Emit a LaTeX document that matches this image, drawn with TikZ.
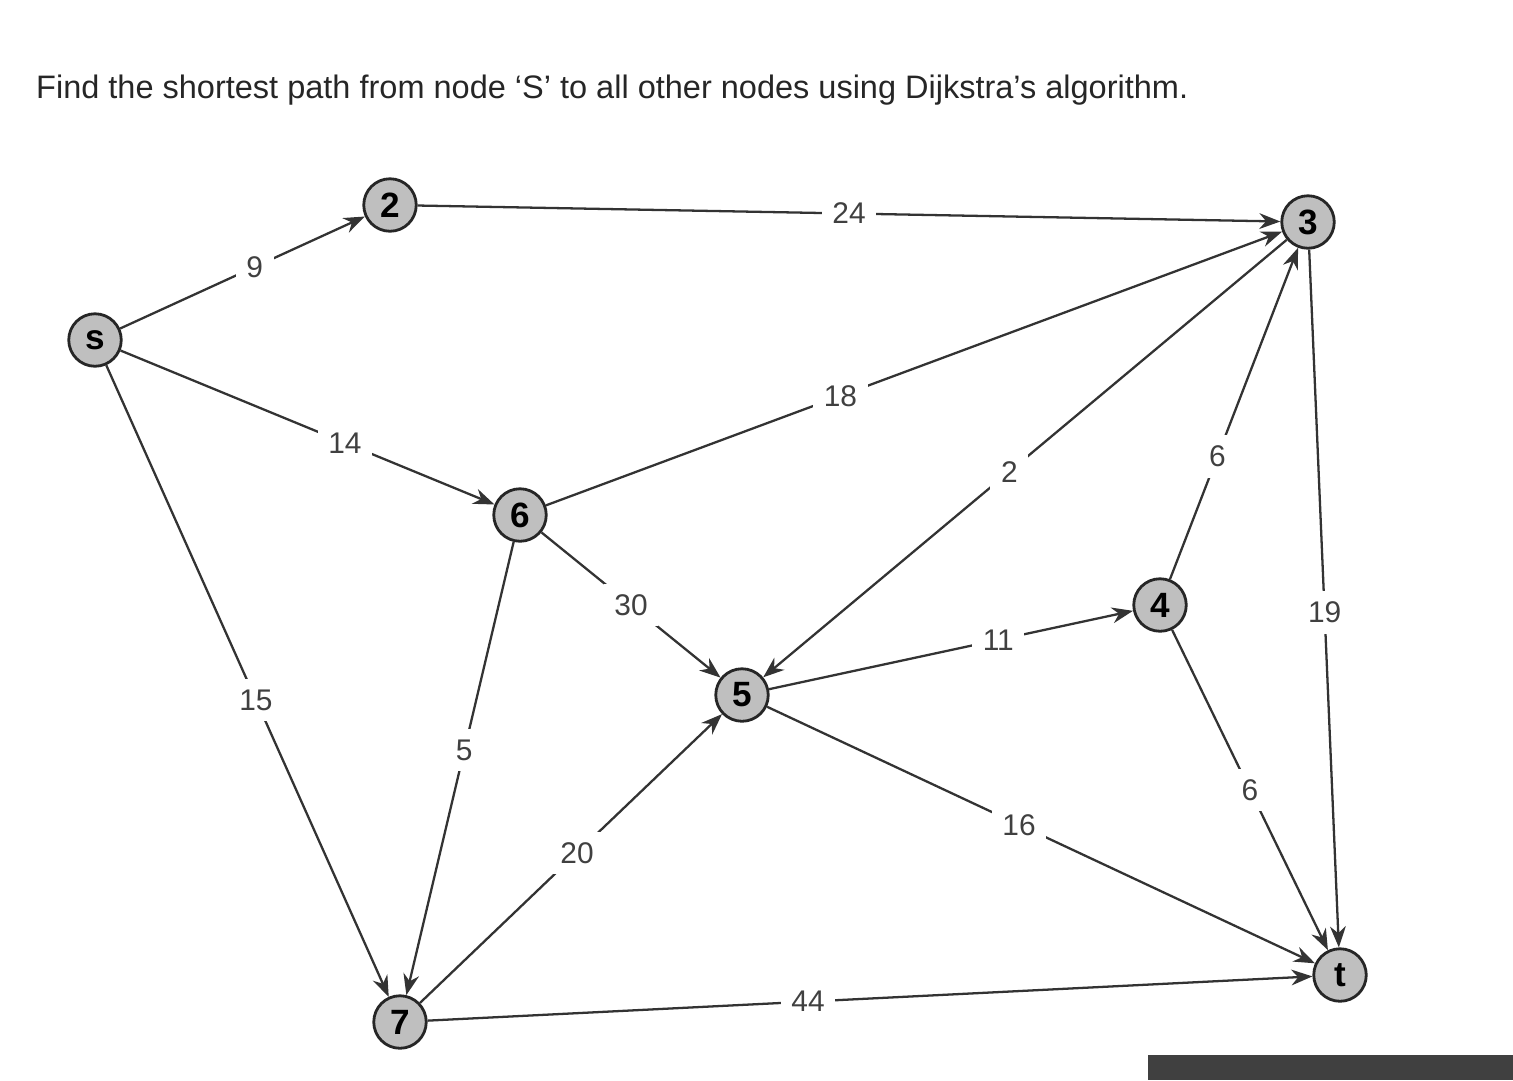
\documentclass[tikz,border=0pt]{standalone}
\usepackage{fontspec}
\setmainfont{Liberation Sans}
\usetikzlibrary{arrows.meta}
\begin{document}
\begin{tikzpicture}[x=0.02cm,y=-0.02cm,
  vert/.style={circle,draw=black!85,line width=1.6pt,fill=black!25,minimum size=1.05cm,inner sep=0pt,font=\fontsize{20}{22}\selectfont\bfseries},
  edge/.style={line width=1.3pt,black!80,-{Stealth[length=12pt,width=9pt]}},
  wt/.style={fill=white,inner sep=6pt,font=\fontsize{17}{19}\selectfont,text=black!75}]
\useasboundingbox (0,0) rectangle (1513,1080);
\fill[black!75] (1148,1055) rectangle (1513,1080);
\node[anchor=west,font=\fontsize{18.5}{21}\selectfont,text=black!85] (title) at (30,90) {Find the shortest path from node ‘S’ to all other nodes using Dijkstra’s algorithm.};
\node[vert] (S) at (95,340) {s};
\node[vert] (n2) at (390,205) {2};
\node[vert] (n3) at (1308,222) {3};
\node[vert] (n6) at (520,515) {6};
\node[vert] (n5) at (742,695) {5};
\node[vert] (n4) at (1160,605) {4};
\node[vert] (n7) at (400,1022) {7};
\node[vert] (t) at (1340,975) {t};
\draw[edge] (S) -- node[wt,pos=0.55]{9} (n2);
\draw[edge] (n2) -- node[wt,pos=0.5]{24} (n3);
\draw[edge] (S) -- node[wt,pos=0.6]{14} (n6);
\draw[edge] (S) -- node[wt,pos=0.53]{15} (n7);
\draw[edge] (n6) -- node[wt,pos=0.4]{18} (n3);
\draw[edge] (n6) -- node[wt,pos=0.5]{30} (n5);
\draw[edge] (n6) -- node[wt,pos=0.46]{5} (n7);
\draw[edge] (n3) -- node[wt,pos=0.53]{2} (n5);
\draw[edge] (n4) -- node[wt,pos=0.37]{6} (n3);
\draw[edge] (n3) -- node[wt,pos=0.52]{19} (t);
\draw[edge] (n5) -- node[wt,pos=0.63]{11} (n4);
\draw[edge] (n4) -- node[wt,pos=0.5]{6} (t);
\draw[edge] (n5) -- node[wt,pos=0.46]{16} (t);
\draw[edge] (n7) -- node[wt,pos=0.52]{20} (n5);
\draw[edge] (n7) -- node[wt,pos=0.43]{44} (t);
\end{tikzpicture}
\end{document}
